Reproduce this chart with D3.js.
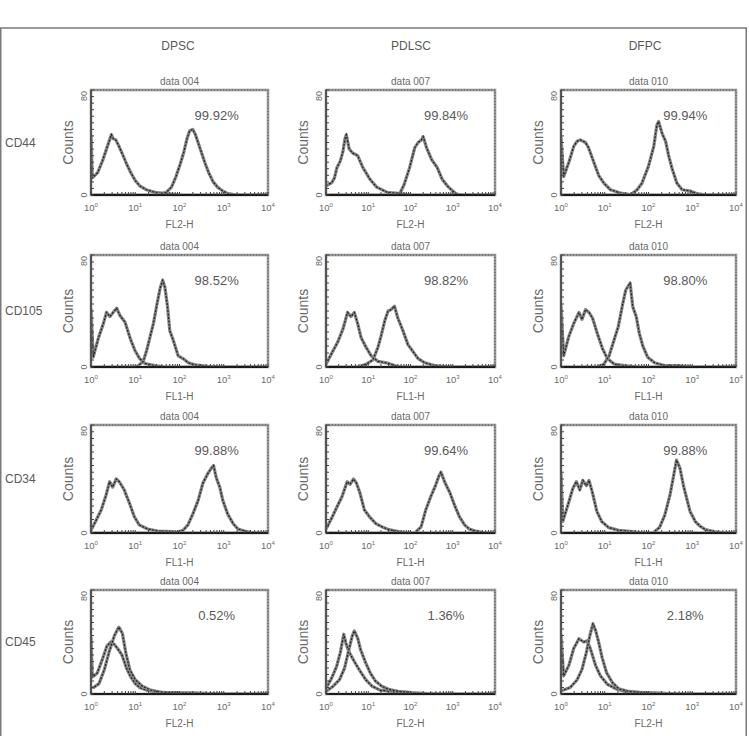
<!DOCTYPE html>
<html><head><meta charset="utf-8">
<script src="https://cdn.jsdelivr.net/npm/d3@7"></script>
<style>
html,body{margin:0;padding:0;background:#fff;}
svg{display:block;font-family:"Liberation Sans",Arial,sans-serif;}
</style></head>
<body>
<svg id="chart" width="749" height="736"></svg>
<script>
// ---------- DATA ----------
const cellTypes = ["DPSC", "PDLSC", "DFPC"];
const markers = ["CD44", "CD105", "CD34", "CD45"];
const fileLabels = ["data 004", "data 007", "data 010"];
const channelLabels = ["FL2-H", "FL1-H", "FL1-H", "FL2-H"];
const percents = [
  ["99.92%", "99.84%", "99.94%"],
  ["98.52%", "98.82%", "98.80%"],
  ["99.88%", "99.64%", "99.88%"],
  ["0.52%", "1.36%", "2.18%"]
];
const xTickExponents = [0, 1, 2, 3, 4];
const yTickLabels = [0, 80];

// histogram points: [log10 fluorescence, counts]
// CD44
const cd44_dpsc_ctrl = [[0,46],[0.03,13],[0.15,17],[0.26,26],[0.34,34],[0.42,42],[0.46,46],[0.5,43],[0.56,42],[0.62,38],[0.7,32],[0.8,24],[0.9,17],[1.0,11],[1.1,7],[1.25,4],[1.45,2],[1.7,1],[2.0,0],[4,0]];
const cd44_dpsc_stain = [[0,0],[1.5,0],[1.7,2],[1.82,6],[1.92,14],[2.02,24],[2.1,33],[2.17,43],[2.23,49],[2.3,50],[2.36,46],[2.42,40],[2.5,32],[2.58,24],[2.66,17],[2.76,10],[2.86,6],[2.98,3],[3.1,1],[3.3,0],[4,0]];
const cd44_pdlsc_ctrl = [[0,7],[0.14,9.5],[0.2,13],[0.26,21],[0.34,26],[0.4,33],[0.45,43],[0.48,46],[0.55,35],[0.63,32],[0.75,30],[0.87,21],[1.04,12],[1.2,6],[1.45,2],[1.77,1],[2.0,0],[4,0]];
const cd44_pdlsc_stain = [[0,0],[1.73,0],[1.85,8],[1.98,21],[2.1,36],[2.18,40],[2.26,42],[2.3,44.5],[2.38,36],[2.5,27],[2.63,21],[2.75,12],[2.87,7],[3.0,3],[3.08,1],[3.2,0],[4,0]];
const cd44_dfpc_ctrl = [[0,44],[0.06,14],[0.18,25],[0.29,37],[0.37,41],[0.44,42],[0.56,40],[0.63,36],[0.75,25],[0.86,15],[0.98,9],[1.13,4],[1.36,1.5],[1.58,0.3],[1.8,0],[4,0]];
const cd44_dfpc_stain = [[0,0],[1.58,0],[1.74,4],[1.85,9],[2.0,22],[2.12,37],[2.19,53],[2.23,56],[2.31,47],[2.39,41],[2.46,30],[2.54,20],[2.65,9],[2.77,4],[2.96,3],[3.11,1],[3.34,0],[4,0]];
// CD105
const cd105_dpsc_ctrl = [[0,42],[0.05,7],[0.17,21],[0.28,31],[0.35,39],[0.43,36],[0.5,39],[0.58,42],[0.65,37],[0.77,32],[0.88,21],[0.99,12],[1.1,6],[1.22,2.5],[1.44,1],[1.67,0],[4,0]];
const cd105_dpsc_stain = [[0,0],[1.0,0],[1.07,1],[1.18,4],[1.26,12],[1.33,21],[1.41,31],[1.48,43],[1.56,56],[1.62,62],[1.67,57],[1.73,43],[1.78,26],[1.86,19],[1.97,8],[2.08,6],[2.2,3],[2.35,1.5],[2.65,0.5],[2.95,0],[4,0]];
const cd105_pdlsc_ctrl = [[0,2],[0.12,9],[0.28,18],[0.4,27],[0.51,39],[0.59,36],[0.67,39],[0.75,31],[0.83,21],[0.95,14],[1.07,8],[1.23,4],[1.43,3],[1.62,1],[1.78,0],[4,0]];
const cd105_pdlsc_stain = [[0,0],[0.75,0],[0.95,2],[1.11,5],[1.23,14],[1.31,23],[1.39,33],[1.47,40],[1.54,41],[1.62,43.5],[1.7,35],[1.82,26],[1.94,16],[2.06,11],[2.18,6],[2.34,3],[2.57,1],[2.97,0],[4,0]];
const cd105_dfpc_ctrl = [[0,44],[0.06,8],[0.18,22],[0.29,31],[0.41,39],[0.48,34],[0.56,41],[0.64,39],[0.72,35],[0.83,24],[0.95,13],[1.06,6],[1.22,2],[1.45,1],[1.75,0],[4,0]];
const cd105_dfpc_stain = [[0,0],[0.83,0],[0.98,2],[1.1,8],[1.22,20],[1.31,29],[1.41,45],[1.48,55],[1.58,60],[1.64,43],[1.72,36],[1.79,24],[1.87,15],[1.98,7],[2.14,3],[2.37,1],[2.68,1],[2.98,0],[4,0]];
// CD34
const cd34_dpsc_ctrl = [[0,2],[0.11,9],[0.23,17],[0.34,28],[0.42,38],[0.49,34],[0.57,40],[0.64,38],[0.75,32],[0.87,22],[0.98,12],[1.09,6],[1.28,3],[1.51,1.5],[1.81,1],[2.04,0],[4,0]];
const cd34_dpsc_stain = [[0,0],[1.89,0],[2.08,2],[2.19,6],[2.3,14],[2.42,24],[2.53,37],[2.64,44],[2.72,48],[2.77,50],[2.83,41],[2.91,34],[2.98,24],[3.09,14],[3.21,7],[3.32,3],[3.47,1.5],[3.7,0],[4,0]];
const cd34_pdlsc_ctrl = [[0,3],[0.15,12],[0.27,20],[0.38,27],[0.5,38],[0.57,36],[0.65,40],[0.72,37],[0.8,30],[0.91,17],[1.03,12],[1.18,7],[1.33,4.5],[1.49,2.5],[1.71,1],[1.94,0],[4,0]];
const cd34_pdlsc_stain = [[0,0],[2.1,0],[2.25,4.5],[2.36,17],[2.48,27],[2.59,35],[2.67,42],[2.72,45],[2.82,37],[2.93,30],[3.05,20],[3.16,12],[3.28,6],[3.39,3],[3.54,1.5],[3.77,0],[4,0]];
const cd34_dfpc_ctrl = [[0,44],[0.04,8.5],[0.16,21],[0.27,33],[0.35,38],[0.43,32],[0.5,39],[0.58,35],[0.64,39],[0.71,31],[0.82,16],[0.93,8.5],[1.09,4],[1.32,2],[1.63,1],[1.86,0],[4,0]];
const cd34_dfpc_stain = [[0,0],[2.1,0],[2.25,4],[2.37,13],[2.49,28],[2.56,40],[2.64,54],[2.72,48],[2.8,35],[2.87,26],[2.95,16],[3.07,8.5],[3.18,5],[3.3,2.5],[3.5,1],[3.73,0],[4,0]];
// CD45
const cd45_dpsc_ctrl = [[0,44],[0.03,13],[0.14,16],[0.26,27],[0.36,37],[0.45,40],[0.53,38],[0.6,35],[0.7,30],[0.8,20],[0.9,13],[1.0,8],[1.1,5],[1.25,3],[1.45,1.5],[1.7,1],[2.0,0.5],[2.5,0.5],[3.0,0],[4,0]];
const cd45_dpsc_stain = [[0,5],[0.06,5],[0.18,8],[0.3,18.5],[0.41,32.5],[0.53,45],[0.63,51.5],[0.71,46.5],[0.79,31],[0.88,18.5],[1.0,11],[1.16,6],[1.35,3],[1.59,1.3],[1.9,1],[2.3,0.8],[2.84,0],[4,0]];
const cd45_pdlsc_ctrl = [[0,4.4],[0.13,12],[0.25,21],[0.34,32],[0.42,46],[0.48,38],[0.55,32],[0.67,25],[0.78,19],[0.94,11],[1.09,6],[1.28,3],[1.55,2],[1.94,1],[2.17,0],[4,0]];
const cd45_pdlsc_stain = [[0,2],[0.17,6],[0.32,11],[0.44,20],[0.54,34],[0.62,44.5],[0.67,48.5],[0.75,43],[0.82,34],[0.94,24],[1.05,16],[1.17,10],[1.32,6],[1.48,3.6],[1.71,2],[2.02,1],[2.32,0.5],[2.63,0],[4,0]];
const cd45_dfpc_ctrl = [[0,46],[0.06,14],[0.18,22],[0.29,35],[0.41,42.5],[0.52,40],[0.6,41],[0.67,35],[0.79,22],[0.9,14],[1.06,7.5],[1.28,3.6],[1.51,1.5],[1.9,1],[2.36,0.5],[2.74,0],[4,0]];
const cd45_dfpc_stain = [[0,2.3],[0.21,5],[0.37,11],[0.48,19],[0.58,32],[0.66,45],[0.73,54],[0.79,49],[0.86,40],[0.94,28],[1.04,16.5],[1.17,9],[1.32,4],[1.51,2.3],[1.82,1],[2.28,0.5],[2.66,0],[4,0]];

const panelData = [
  [[cd44_dpsc_ctrl, cd44_dpsc_stain], [cd44_pdlsc_ctrl, cd44_pdlsc_stain], [cd44_dfpc_ctrl, cd44_dfpc_stain]],
  [[cd105_dpsc_ctrl, cd105_dpsc_stain], [cd105_pdlsc_ctrl, cd105_pdlsc_stain], [cd105_dfpc_ctrl, cd105_dfpc_stain]],
  [[cd34_dpsc_ctrl, cd34_dpsc_stain], [cd34_pdlsc_ctrl, cd34_pdlsc_stain], [cd34_dfpc_ctrl, cd34_dfpc_stain]],
  [[cd45_dpsc_ctrl, cd45_dpsc_stain], [cd45_pdlsc_ctrl, cd45_pdlsc_stain], [cd45_dfpc_ctrl, cd45_dfpc_stain]]
];

// ---------- LAYOUT ----------
const colBoxes = [{x0: 91, x1: 268}, {x0: 326, x1: 495}, {x0: 561, x1: 736}];
const rowBoxes = [{y0: 90, y1: 195}, {y0: 255, y1: 367}, {y0: 425, y1: 533}, {y0: 590, y1: 694}];
const headerX = [178, 411, 645];

const svg = d3.select("#chart");
const txt = "#5a5a5a";

// outer frame
svg.append("rect").attr("x", 0.75).attr("y", 28).attr("width", 745.5).attr("height", 720)
  .attr("fill", "none").attr("stroke", "#7a7a7a").attr("stroke-width", 1.5);

cellTypes.forEach((t, c) => {
  svg.append("text").attr("x", headerX[c]).attr("y", 50).attr("text-anchor", "middle")
    .attr("font-size", 12).attr("fill", txt).text(t);
});

markers.forEach((m, r) => {
  const rb = rowBoxes[r];
  svg.append("text").attr("x", 5).attr("y", (rb.y0 + rb.y1) / 2 + 4)
    .attr("font-size", 12).attr("fill", txt).text(m);
});

let clipId = 0;
rowBoxes.forEach((rb, r) => {
  colBoxes.forEach((cb, c) => {
    const x = d3.scaleLog().domain([1, 1e4]).range([cb.x0, cb.x1]);
    const y = d3.scaleLinear().domain([0, 80]).range([rb.y1, rb.y0]);
    const g = svg.append("g");
    const id = "clip" + (clipId++);
    g.append("clipPath").attr("id", id).append("rect")
      .attr("x", cb.x0).attr("y", rb.y0).attr("width", cb.x1 - cb.x0).attr("height", rb.y1 - rb.y0);

    // curves
    const line = d3.line().x(d => x(Math.pow(10, d[0]))).y(d => y(d[1]));
    const cg = g.append("g").attr("clip-path", `url(#${id})`);
    panelData[r][c].forEach(series => {
      cg.append("path").attr("d", line(series)).attr("fill", "none")
        .attr("stroke", "#858585").attr("stroke-width", 3.2).attr("stroke-linejoin", "round");
      cg.append("path").attr("d", line(series)).attr("fill", "none")
        .attr("stroke", "#222").attr("stroke-width", 1.2).attr("stroke-dasharray", "2,1.5");
    });

    // frame
    g.append("rect").attr("x", cb.x0).attr("y", rb.y0).attr("width", cb.x1 - cb.x0).attr("height", rb.y1 - rb.y0)
      .attr("fill", "none").attr("stroke", "#999").attr("stroke-width", 2.6);
    g.append("rect").attr("x", cb.x0).attr("y", rb.y0).attr("width", cb.x1 - cb.x0).attr("height", rb.y1 - rb.y0)
      .attr("fill", "none").attr("stroke", "#555").attr("stroke-width", 1).attr("stroke-dasharray", "1,2");
    // left axis darker
    g.append("line").attr("x1", cb.x0).attr("x2", cb.x0).attr("y1", rb.y0).attr("y2", rb.y1)
      .attr("stroke", "#555").attr("stroke-width", 2);
    // bottom axis
    g.append("line").attr("x1", cb.x0).attr("x2", cb.x1).attr("y1", rb.y1).attr("y2", rb.y1)
      .attr("stroke", "#1a1a1a").attr("stroke-width", 2);

    // minor ticks bottom
    g.selectAll(".mt").data(x.ticks()).enter().append("line")
      .attr("x1", d => x(d)).attr("x2", d => x(d)).attr("y1", rb.y1).attr("y2", rb.y1 - 3)
      .attr("stroke", "#444").attr("stroke-width", 1);
    // ticks left
    g.selectAll(".yt").data(d3.range(0, 81, 5)).enter().append("line")
      .attr("x1", cb.x0).attr("x2", cb.x0 + 3).attr("y1", d => y(d)).attr("y2", d => y(d))
      .attr("stroke", "#444").attr("stroke-width", 1);

    // x tick labels
    xTickExponents.forEach(e => {
      const tx = g.append("text").attr("x", x(Math.pow(10, e))).attr("y", rb.y1 + 16)
        .attr("text-anchor", "middle").attr("font-size", 9.5).attr("fill", "#6a6a6a");
      tx.append("tspan").text("10");
      tx.append("tspan").attr("dy", -4).attr("font-size", 6).text(e);
    });
    // y tick labels
    yTickLabels.forEach(v => {
      g.append("text").attr("transform", `translate(${cb.x0 - 4},${v === 0 ? rb.y1 : rb.y0 + 6}) rotate(-90)`)
        .attr("text-anchor", "middle").attr("font-size", 9).attr("fill", "#6a6a6a").text(v);
    });
    // axis titles
    g.append("text").attr("x", (cb.x0 + cb.x1) / 2).attr("y", rb.y1 + 33).attr("text-anchor", "middle")
      .attr("font-size", 10).attr("fill", "#6a6a6a").text(channelLabels[r]);
    g.append("text").attr("transform", `translate(${cb.x0 - 18},${(rb.y0 + rb.y1) / 2}) rotate(-90)`)
      .attr("text-anchor", "middle").attr("font-size", 14).attr("fill", "#6a6a6a").text("Counts");
    g.append("text").attr("x", (cb.x0 + cb.x1) / 2).attr("y", rb.y0 - 5).attr("text-anchor", "middle")
      .attr("font-size", 10).attr("fill", "#6a6a6a").text(fileLabels[c]);
    // percent
    g.append("text").attr("x", cb.x0 + 0.71 * (cb.x1 - cb.x0)).attr("y", rb.y0 + 30).attr("text-anchor", "middle")
      .attr("font-size", 13).attr("fill", txt).text(percents[r][c]);
  });
});
</script>
</body></html>
